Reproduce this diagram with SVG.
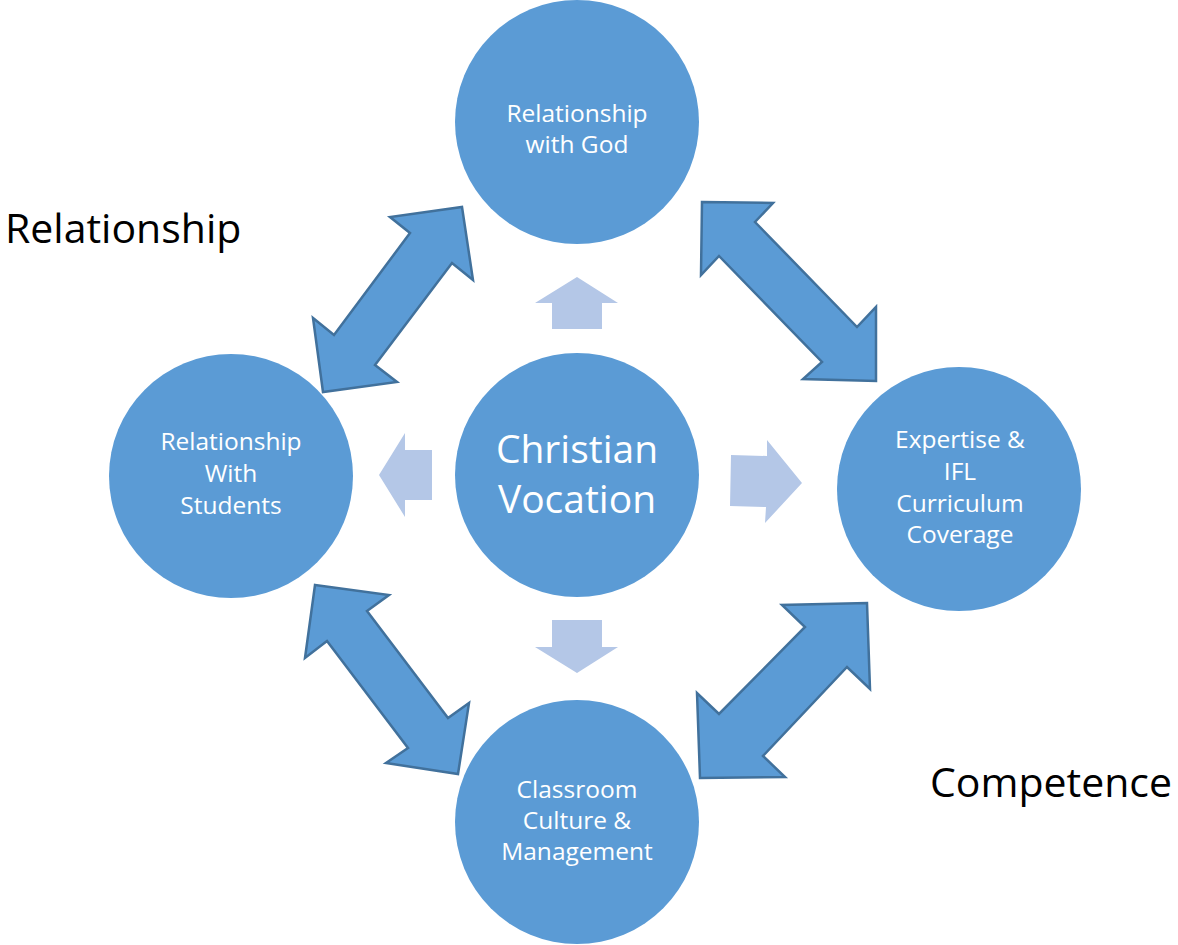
<svg xmlns="http://www.w3.org/2000/svg" width="1178" height="945" viewBox="0 0 1178 945">
<style>
.node{fill:#5b9bd5}
.big{fill:#5b9bd5;stroke:#41719c;stroke-width:2.5;stroke-linejoin:miter}
.small{fill:#b4c7e7}
.t{font-family:"Open Sans","Liberation Sans",sans-serif;fill:#ffffff;text-anchor:middle;font-size:24.5px}
.tc{font-family:"Open Sans","Liberation Sans",sans-serif;fill:#ffffff;text-anchor:middle;font-size:39px}
.side{font-family:"Open Sans","Liberation Sans",sans-serif;fill:#000000;font-size:41px}
</style>
<rect width="1178" height="945" fill="#ffffff"/>
<g id="connectors">
<polygon class="big" points="462,207 473,280 452,263 375,365 397,382 323,392 313,318 334,335 410,233 390,217"/>
<polygon class="big" points="702,202 773,203 755,222 857,327 876,307 876,381 803,379 822,362 719,256 701,275"/>
<polygon class="big" points="315,585 389,595 367,611 448,718 469,703 458,774 386,763 408,748 327,641 305,658"/>
<polygon class="big" points="867,603 870,689 847,667 763,756 785,777 700,778 697,693 719,714 805,627 782,605"/>
<polygon class="small" points="577,277 618,303 602,303 602,329 552,329 552,303 535,303"/>
<polygon class="small" points="552,620 602,620 602,647 618,647 577,673 535,647 552,647"/>
<polygon class="small" points="379,475 405,433 405,450 432,450 432,500 405,500 405,517"/>
<polygon class="small" points="731,455 767,456 767,440 802,483 765,523 766,507 730,506"/>
</g>
<g id="node-god">
<circle class="node" cx="577" cy="122" r="122"/>
<text class="t" x="577" y="122">Relationship</text>
<text class="t" x="577" y="153">with God</text>
</g>
<g id="node-students">
<circle class="node" cx="231" cy="476" r="122"/>
<text class="t" x="231" y="450">Relationship</text>
<text class="t" x="231" y="482">With</text>
<text class="t" x="231" y="514">Students</text>
</g>
<g id="node-center">
<circle class="node" cx="577" cy="475" r="122"/>
<text class="tc" x="577" y="463">Christian</text>
<text class="tc" x="577" y="513">Vocation</text>
</g>
<g id="node-expertise">
<circle class="node" cx="959" cy="489" r="122"/>
<text class="t" x="960" y="448">Expertise &amp;</text>
<text class="t" x="960" y="480">IFL</text>
<text class="t" x="960" y="512">Curriculum</text>
<text class="t" x="960" y="543">Coverage</text>
</g>
<g id="node-classroom">
<circle class="node" cx="577" cy="822" r="122"/>
<text class="t" x="577" y="798">Classroom</text>
<text class="t" x="577" y="829">Culture &amp;</text>
<text class="t" x="577" y="860">Management</text>
</g>
<g id="labels">
<text class="side" x="5" y="243">Relationship</text>
<text class="side" x="930" y="797">Competence</text>
</g>
</svg>
